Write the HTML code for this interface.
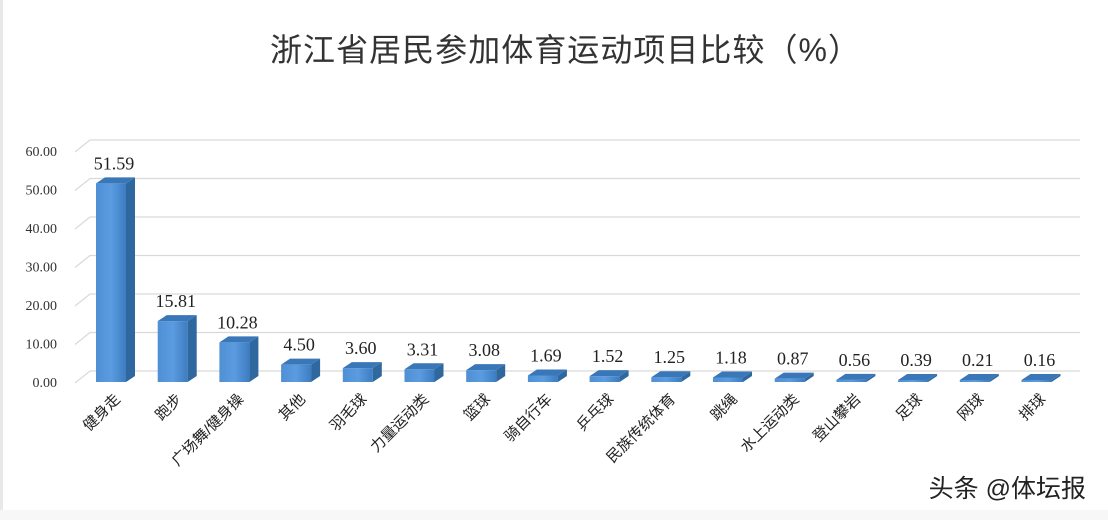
<!DOCTYPE html>
<html><head><meta charset="utf-8"><style>
body{margin:0;width:1108px;height:520px;background:#fff;overflow:hidden}
svg{display:block}
</style></head><body>
<svg width="1108" height="520" xmlns="http://www.w3.org/2000/svg">
<defs>
<linearGradient id="f" x1="0" x2="1"><stop offset="0" stop-color="#4f8fd3"/><stop offset="0.5" stop-color="#5b9be0"/><stop offset="1" stop-color="#3d7cc0"/></linearGradient>
</defs>
<rect x="0" y="0" width="1108" height="520" fill="#fff"/>
<rect x="0" y="0" width="3" height="520" fill="#e8e8e8"/>
<rect x="0" y="510" width="1108" height="10" fill="#f7f7f7"/>
<text x="565" y="61" text-anchor="middle" font-family="Liberation Sans, Noto Sans CJK SC, sans-serif" font-size="32" fill="#333" textLength="590" lengthAdjust="spacing">浙江省居民参加体育运动项目比较（%）</text>
<g stroke="#d9d9d9" stroke-width="1.2" fill="none" id="grid"></g>
<g id="ylab" font-family="Liberation Serif, serif" font-size="14" fill="#333" text-anchor="end"></g>
<g id="bars"></g>
<g id="vals" font-family="Liberation Serif, serif" font-size="18" fill="#222" text-anchor="middle"></g>
<g id="cats" font-family="Liberation Sans, Noto Sans CJK SC, sans-serif" font-size="15" fill="#222" text-anchor="end"></g>
<text x="1086" y="497" text-anchor="end" font-family="Liberation Sans, Noto Sans CJK SC, sans-serif" font-size="25" fill="#222">头条 @体坛报</text>
</svg>
<script>
const ns="http://www.w3.org/2000/svg";
function el(t,a,p,txt){const e=document.createElementNS(ns,t);for(const k in a)e.setAttribute(k,a[k]);if(txt!==undefined)e.textContent=txt;document.getElementById(p).appendChild(e);return e;}
const S=3.85, Y0=382;
for(let v=0;v<=60;v+=10){
 const yf=Y0-v*S, yb=yf-11;
 el('path',{d:`M75 ${yf+1} L90 ${yb} L1080 ${yb}`},'grid');
 el('text',{x:57,y:yf+5},'ylab',v.toFixed(2));
}
const vals=[51.59,15.81,10.28,4.50,3.60,3.31,3.08,1.69,1.52,1.25,1.18,0.87,0.56,0.39,0.21,0.16];
const cats=["健身走","跑步","广场舞/健身操","其他","羽毛球","力量运动类","篮球","骑自行车","乒乓球","民族传统体育","跳绳","水上运动类","登山攀岩","足球","网球","排球"];
vals.forEach((v,i)=>{
 const cx=111+i*61.7, x=cx-15, w=30, dx=9, dy=6;
 const h=Math.max(v*S,2), y=Y0-h;
 el('rect',{x:x,y:y,width:w,height:h,fill:'url(#f)'},'bars');
 el('path',{d:`M${x+w} ${y} L${x+w+dx} ${y-dy} L${x+w+dx} ${Y0-dy} L${x+w} ${Y0} Z`,fill:'#2f679f'},'bars');
 el('path',{d:`M${x} ${y} L${x+dx} ${y-dy} L${x+w+dx} ${y-dy} L${x+w} ${y} Z`,fill:'#3a77b9'},'bars');
 el('text',{x:cx+3,y:y-dy-8},'vals',v.toFixed(2));
 const lx=cx+10, ly=400;
 el('text',{x:lx,y:ly,transform:`rotate(-45 ${lx} ${ly})`},'cats',cats[i]);
});
</script>
</body></html>
